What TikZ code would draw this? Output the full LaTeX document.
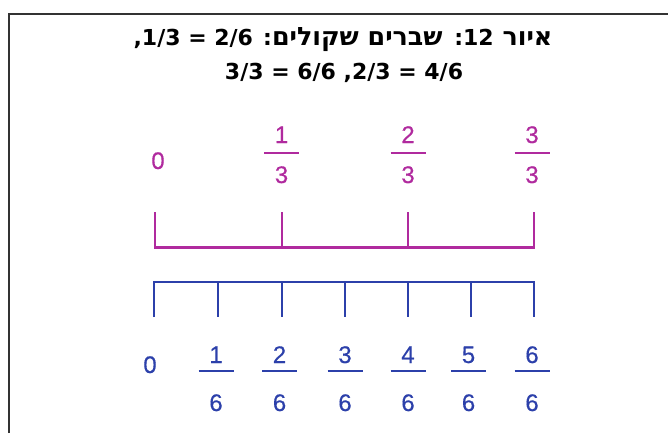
\documentclass[tikz,border=0pt]{standalone}
\usepackage{fontspec}
\setmainfont{Liberation Sans}
\newfontfamily\hebfont[Script=Hebrew,Scale=1.15]{DejaVu Sans}
\newfontfamily\numfont{DejaVu Sans}
\newfontfamily\labfont[FakeBold=0.4]{Liberation Sans}
\TeXXeTstate=1
\definecolor{mag}{RGB}{176,42,158}
\definecolor{blu}{RGB}{44,64,170}
\tikzset{
  frame/.style={draw=black!80, line width=2pt},
  title/.style={font=\fontsize{22}{26}\selectfont\bfseries, anchor=base, inner sep=0pt},
  numlab/.style={font=\fontsize{24}{28}\selectfont\labfont, anchor=base, inner sep=0pt},
  axisline/.style={line width=2.6pt, line join=miter},
  fbar/.style={line width=2.6pt},
}
\begin{document}
\begin{tikzpicture}[x=1pt,y=-1pt]
\useasboundingbox (0,0) rectangle (668,433);
% frame
\coordinate (fb) at (8.5,433);
\coordinate (fc) at (8.5,14.5);
\coordinate (fr) at (668,14.5);
\draw[frame] (fb) -- (fc) -- (fr);
% title
\node[title] (t1) at (343,46) {\beginR\hebfont איור {\numfont\beginL 12\endL:} שברים שקולים{\numfont: \beginL 2/6\endL{} = \beginL 1/3\endL,}\endR};
\node[title] (t2) at (344,80) {\numfont\beginR\beginL 4/6\endL{} = \beginL 2/3\endL, \beginL 6/6\endL{} = \beginL 3/3\endL\endR};
% magenta number line (thirds)
\foreach \i/\x in {0/155,1/282,2/408,3/534}{
  \coordinate (mt\i) at (\x,212);
  \coordinate (mb\i) at (\x,247.5);
}
\draw[axisline, mag] (mt0) -- (mb0) -- (mb3) -- (mt3);
\draw[axisline, mag] (mt1) -- (mb1);
\draw[axisline, mag] (mt2) -- (mb2);
\node[numlab, text=mag] (m0) at (158,169) {0};
\foreach \n/\x in {1/281.5,2/408,3/532}{
  \node[numlab, text=mag] (mn\n) at (\x,143) {\n};
  \node[numlab, text=mag] (md\n) at (\x,183) {3};
  \coordinate (mbl\n) at (\x-17.5,153);
  \coordinate (mbr\n) at (\x+17.5,153);
  \draw[fbar, mag] (mbl\n) -- (mbr\n);
}
% blue number line (sixths)
\foreach \i/\x in {0/154,1/218,2/282,3/345,4/408,5/471,6/534}{
  \coordinate (bt\i) at (\x,282);
  \coordinate (bb\i) at (\x,317);
}
\draw[axisline, blu] (bb0) -- (bt0) -- (bt6) -- (bb6);
\foreach \i in {1,...,5}{
  \draw[axisline, blu] (bt\i) -- (bb\i);
}
\node[numlab, text=blu] (b0) at (150,373) {0};
\foreach \n/\x in {1/216,2/279.5,3/345,4/408,5/468.5,6/532}{
  \node[numlab, text=blu] (bn\n) at (\x,363) {\n};
  \node[numlab, text=blu] (bd\n) at (\x,411) {6};
  \coordinate (bbl\n) at (\x-17.5,371);
  \coordinate (bbr\n) at (\x+17.5,371);
  \draw[fbar, blu] (bbl\n) -- (bbr\n);
}
\end{tikzpicture}
\end{document}
